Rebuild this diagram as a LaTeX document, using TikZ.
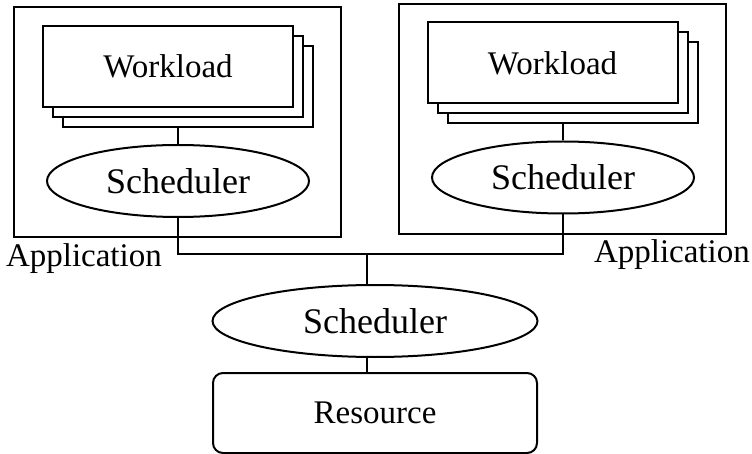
\documentclass[tikz,border=0pt]{standalone}
\usepackage{fontspec}
\setmainfont{Liberation Serif}
\usetikzlibrary{positioning, shapes.geometric, calc}

\tikzset{
  every node/.style={font=\fontsize{33}{40}\selectfont, inner sep=0pt},
  appbox/.style={draw, minimum width=327pt, minimum height=230pt},
  wlbox/.style={draw, fill=white, minimum width=250pt, minimum height=81pt},
  sched/.style={draw, ellipse, minimum width=262pt, minimum height=72pt,
    font=\fontsize{36}{42}\selectfont},
  resbox/.style={draw, rounded corners=10pt, minimum width=324pt, minimum height=80pt}
}

\begin{document}
\begin{tikzpicture}[x=1pt, y=-1pt, line width=2pt]
\useasboundingbox (0,0) rectangle (752,454);
% applications
\node[appbox] (appL) at (177.5,122) {};
\node[appbox] (appR) at (562,119) {};
\node[anchor=base west] (labL) at (5,267) {Application};
\node[anchor=base west] (labR) at (593,263) {Application};
% workload stacks
\foreach \i in {2,1}{
  \node[wlbox] (wlL\i) at (168+10*\i,66.5+10*\i) {};
  \node[wlbox] (wlR\i) at (552.5+10*\i,63+10*\i) {};
}
\node[wlbox] (wlL0) at (168,66.5) {Workload};
\node[wlbox] (wlR0) at (552.5,63) {Workload};
% schedulers
\node[sched] (schL) at (178,181) {Scheduler};
\node[sched] (schR) at (563,177.5) {Scheduler};
\node[sched, minimum width=325pt] (schB) at (375,321) {Scheduler};
\node[resbox] (res) at (375,413) {Resource};
\coordinate (busM) at (367,254);
\draw (schL.north) -- (schL.north |- wlL2.south);
\draw (schR.north) -- (schR.north |- wlR2.south);
\draw (schL.south) |- (busM) -| (schR.south);
\draw (busM) -- (busM |- schB.north);
\draw (busM |- schB.south) -- (busM |- res.north);
\end{tikzpicture}
\end{document}
